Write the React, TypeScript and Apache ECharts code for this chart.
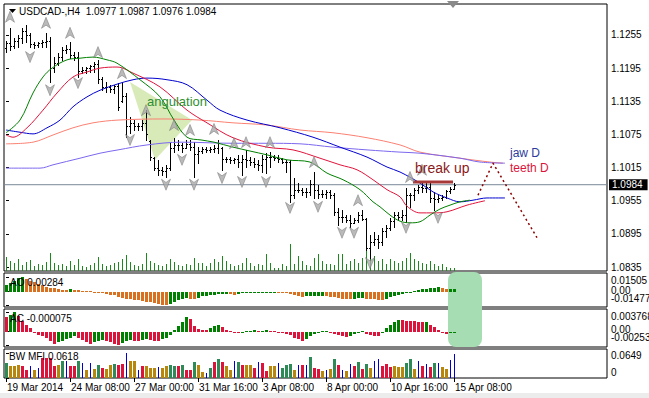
import React, { useEffect, useRef } from 'react';
import * as echarts from 'echarts';

const FONT = "'Liberation Sans', Arial, sans-serif";

// ---------- time axis ----------
const timeLabels = ['19 Mar 2014', '24 Mar 08:00', '27 Mar 00:00', '31 Mar 16:00', '3 Apr 08:00', '8 Apr 00:00', '10 Apr 16:00', '15 Apr 08:00'];
const timeTickIdx = [0, 16, 32, 48, 64, 80, 96, 112];

// ---------- price (H4 OHLC) ----------
const opens = [1.1232,1.1240,1.1235,1.1245,1.1250,1.1262,1.1255,1.1238,1.1236,1.1240,
1.1243,1.1245,1.1195,1.1205,1.1215,1.1228,1.1230,1.1218,1.1215,1.1190,
1.1192,1.1195,1.1198,1.1203,1.1175,1.1160,1.1160,1.1158,1.1162,1.1136,
1.1145,1.1090,1.1095,1.1090,1.1090,1.1095,1.1063,1.1033,1.1015,1.1010,
1.1008,1.1015,1.1050,1.1055,1.1055,1.1050,1.1058,1.1052,1.1040,1.1045,
1.1048,1.1046,1.1048,1.1050,1.1050,1.1030,1.1030,1.1028,1.1030,1.1025,
1.1030,1.1028,1.1025,1.1022,1.1020,1.1030,1.1035,1.1035,1.1032,1.1030,
1.1026,1.1025,1.0965,1.0975,1.0975,1.0970,1.0970,1.0985,1.0975,1.0968,
1.0968,1.0970,1.0965,1.0935,1.0925,1.0925,1.0920,1.0915,1.0920,1.0930,
1.0922,1.0870,1.0880,1.0885,1.0880,1.0900,1.0905,1.0918,1.0930,1.0925,
1.0930,1.0965,1.0965,1.0975,1.0980,1.0978,1.0980,1.0960,1.0958,1.0960,
1.0962,1.0972,1.0977];
const highs = [1.1245,1.1268,1.1250,1.1255,1.1268,1.1273,1.1259,1.1242,1.1242,1.1246,
1.1259,1.1251,1.1215,1.1222,1.1233,1.1237,1.1242,1.1224,1.1224,1.1197,
1.1197,1.1201,1.1206,1.1210,1.1179,1.1170,1.1165,1.1165,1.1168,1.1168,
1.1150,1.1107,1.1101,1.1096,1.1101,1.1119,1.1065,1.1034,1.1029,1.1016,
1.1020,1.1059,1.1068,1.1065,1.1059,1.1065,1.1065,1.1061,1.1052,1.1052,
1.1052,1.1052,1.1055,1.1065,1.1052,1.1034,1.1034,1.1032,1.1038,1.1038,
1.1047,1.1034,1.1032,1.1029,1.1038,1.1041,1.1043,1.1038,1.1038,1.1032,
1.1029,1.1029,1.0996,1.0987,1.0978,1.0978,1.0993,1.1007,1.0984,1.0975,
1.0975,1.0975,1.0969,1.0942,1.0938,1.0929,1.0929,1.0924,1.0935,1.0938,
1.0924,1.0893,1.0898,1.0893,1.0906,1.0911,1.0924,1.0935,1.0935,1.0938,
1.0978,1.0969,1.0978,1.0984,1.0989,1.0987,1.0989,1.0971,1.0965,1.0965,
1.0975,1.0980,1.0987];
const lows = [1.1225,1.1228,1.1231,1.1233,1.1241,1.1242,1.1233,1.1231,1.1233,1.1233,
1.1233,1.1170,1.1188,1.1201,1.1210,1.1222,1.1213,1.1210,1.1179,1.1186,
1.1186,1.1188,1.1188,1.1168,1.1155,1.1152,1.1152,1.1150,1.1119,1.1134,
1.1070,1.1078,1.1083,1.1083,1.1083,1.1065,1.1029,1.1011,1.1002,1.1002,
1.0998,1.1011,1.1043,1.1047,1.1043,1.1050,1.1047,1.0998,1.1023,1.1041,
1.1043,1.1043,1.1043,1.1041,1.1011,1.1025,1.1023,1.1023,1.1016,1.1002,
1.1016,1.1020,1.1016,1.1011,1.1007,1.1005,1.1016,1.1029,1.1025,1.1023,
1.1007,1.0953,1.0960,1.0971,1.0965,1.0962,1.0965,1.0960,1.0960,1.0962,
1.0960,1.0960,1.0929,1.0911,1.0917,1.0917,1.0908,1.0915,1.0917,1.0920,
1.0866,1.0851,1.0875,1.0870,1.0875,1.0889,1.0902,1.0908,1.0920,1.0920,
1.0917,1.0944,1.0956,1.0969,1.0971,1.0971,1.0953,1.0938,1.0953,1.0956,
1.0960,1.0969,1.0976];
const closes = [1.1240,1.1235,1.1245,1.1250,1.1262,1.1255,1.1238,1.1236,1.1240,1.1243,
1.1245,1.1195,1.1205,1.1215,1.1228,1.1230,1.1218,1.1215,1.1190,1.1192,
1.1195,1.1198,1.1203,1.1175,1.1160,1.1160,1.1158,1.1162,1.1125,1.1145,
1.1090,1.1095,1.1090,1.1090,1.1095,1.1075,1.1035,1.1015,1.1010,1.1008,
1.1015,1.1050,1.1055,1.1055,1.1050,1.1058,1.1052,1.1040,1.1045,1.1048,
1.1046,1.1048,1.1050,1.1060,1.1030,1.1030,1.1028,1.1030,1.1025,1.1030,
1.1028,1.1025,1.1022,1.1020,1.1030,1.1035,1.1035,1.1032,1.1030,1.1026,
1.1025,1.0965,1.0975,1.0975,1.0970,1.0970,1.0985,1.0975,1.0968,1.0968,
1.0970,1.0965,1.0935,1.0925,1.0925,1.0920,1.0915,1.0920,1.0930,1.0922,
1.0870,1.0880,1.0885,1.0880,1.0900,1.0905,1.0918,1.0930,1.0925,1.0930,
1.0965,1.0965,1.0975,1.0980,1.0978,1.0980,1.0960,1.0958,1.0960,1.0962,
1.0972,1.0977,1.0984];
const tickVolumes = [1400,1000,800,1200,600,900,1100,500,700,600,900,
1800,800,600,700,500,1000,600,1200,500,400,
600,800,1400,700,500,600,800,900,1200,1600,
900,600,500,700,1800,1000,800,600,500,700,
1200,900,600,500,700,600,1300,800,
800,500,800,1200,900,1500,1000,700,500,600,800,1300,
800,500,700,600,1700,800,300,300,700,500,
2700,
700,1500,1000,600,500,1300,1700,1000,700,
700,600,1700,1700,700,1000,1200,800,1300,2000,
1800,1500,1000,1200,700,1200,1000,800,1000,1300,
1800,1200,1000,800,700,1000,700,500,700,400,300,300];
const lastPrice = 1.0984;
const priceTicks = [1.0835, 1.0895, 1.0955, 1.1015, 1.1075, 1.1135, 1.1195, 1.1255];

// ---------- Alligator (H4) and daily lines: [bar index, price] ----------
const jaw = [[0,1.1083],[3.5,1.1079],[6.75,1.1076],[10.25,1.1087],[13.5,1.1101],[16.75,1.1125],[20.25,1.1143],[23.5,1.1155],[27.75,1.1166],[31.75,1.1174],[35.25,1.1177],[40.25,1.1174],[45.25,1.1165],[50.25,1.1137],[53.5,1.1119],[60.25,1.1101],[68.5,1.1087],[76.75,1.1070],[83.5,1.1052],[90.25,1.1034],[95.25,1.1016],[98.5,1.1007],[103.5,1.0987],[106.75,1.0971],[110.25,1.0960],[113.5,1.0953],[116.75,1.0956],[120.25,1.0960],[124.75,1.0960]];
const teeth = [[0,1.1074],[1.75,1.1070],[5.25,1.1087],[9.25,1.1119],[12.75,1.1150],[16.75,1.1179],[20.25,1.1188],[23.5,1.1195],[27.75,1.1197],[31.75,1.1186],[38.5,1.1161],[45.25,1.1119],[50.25,1.1096],[56.75,1.1069],[65.25,1.1052],[71.75,1.1047],[78.5,1.1032],[83.5,1.1020],[87.75,1.1011],[91.75,1.0993],[95.25,1.0975],[98.5,1.0962],[100.25,1.0945],[103.5,1.0933],[106.75,1.0933],[110.25,1.0935],[115.25,1.0947],[119.75,1.0955]];
const lips = [[0,1.1078],[3.5,1.1101],[6.75,1.1150],[9.25,1.1179],[11.5,1.1195],[15.25,1.1210],[18.5,1.1213],[21.75,1.1215],[25.25,1.1210],[27.75,1.1204],[33.5,1.1174],[38.5,1.1143],[42,1.1101],[45.25,1.1070],[48.75,1.1065],[52,1.1061],[56.75,1.1052],[65.25,1.1038],[70.25,1.1029],[76,1.1025],[80.25,1.1005],[84.25,1.0993],[88.5,1.0975],[91.75,1.0953],[93.5,1.0944],[96,1.0929],[98.5,1.0918],[101,1.0915],[103.5,1.0917],[106,1.0929],[108.5,1.0940],[111,1.0947],[113.5,1.0953],[116,1.0956]];
const teethD = [[0,1.1058],[6.75,1.1061],[11.75,1.1074],[16.75,1.1087],[21.75,1.1096],[28,1.1101],[39.5,1.1103],[48.5,1.1101],[56.75,1.1096],[65.25,1.1092],[73.5,1.1083],[81.75,1.1078],[90.25,1.1069],[98.5,1.1056],[103.5,1.1043],[113.5,1.1032],[121,1.1025],[124.25,1.1023]];
const jawD = [[0,1.1014],[8.5,1.1014],[11.75,1.1020],[18.5,1.1032],[23.5,1.1041],[28,1.1047],[35.25,1.1056],[43.75,1.1061],[56.75,1.1059],[65.25,1.1059],[73.5,1.1058],[81.75,1.1052],[90.25,1.1047],[98.5,1.1043],[103.5,1.1041],[113.5,1.1032],[118.5,1.1025],[124.75,1.1023]];

// ---------- fractals ----------
const upFractals = [[1,1.1288],[10,1.1277],[16,1.1259],[23,1.1224],[29,1.1186],[35,1.1119],[42,1.1092],[46,1.1083],[52,1.1085],[57,1.1059],[60,1.1061],[66,1.1061],[77,1.1025],[88,1.0956],[101,1.0998],[104,1.1011]];
const downFractals = [[6,1.1215],[11,1.1155],[18,1.1168],[31,1.1065],[40,1.0984],[44,1.1029],[47,1.0984],[54,1.0996],[59,1.0989],[65,1.0989],[71,1.0942],[78,1.0944],[84,1.0897],[87,1.0897],[91,1.0842],[100,1.0906],[108,1.0924]];

// ---------- drawn objects ----------
const angulationTriangle = [[31,1.1170],[46.5,1.1101],[37.25,1.1029]];
const breakUpLevel = [[101.75,1.0989],[111.75,1.0989]];
const projection = [[118,1.0965],[121.75,1.1023],[132.75,1.0888]];

// ---------- AO ----------
const aoValues = [0.0070,0.0090,0.0117,0.0140,0.01505,0.0134,0.0118,0.0098,0.0079,0.0066,
0.0054,0.0043,0.0035,0.0027,0.0019,0.0015,0.0023,0.0016,0.0012,0.0011,
0.0008,0.0004,-0.0003,-0.0010,-0.0013,-0.0024,-0.0034,-0.0040,-0.0057,-0.0067,
-0.0074,-0.0084,-0.0091,-0.0094,-0.0101,-0.0108,-0.0114,-0.0121,-0.0134,-0.0141,
-0.01477,-0.0134,-0.0114,-0.0094,-0.0081,-0.0067,-0.0074,-0.0075,-0.0064,-0.0050,
-0.0049,-0.0037,-0.0031,-0.0030,-0.0029,-0.0024,-0.0030,-0.0031,-0.0024,-0.0020,
-0.0019,-0.0017,-0.0013,-0.0010,-0.0007,-0.0006,-0.0005,-0.0003,-0.0007,-0.0013,
-0.0017,-0.0024,-0.0040,-0.0050,-0.0057,-0.0047,-0.0046,-0.0045,-0.0044,-0.0043,
-0.0050,-0.0057,-0.0060,-0.0067,-0.0074,-0.0080,-0.0081,-0.0074,-0.0067,-0.0064,
-0.0074,-0.0081,-0.0084,-0.0085,-0.0086,-0.0074,-0.0057,-0.0047,-0.0034,-0.0027,
-0.0017,-0.0010,0.0011,0.0018,0.0025,0.0032,0.0039,0.0043,0.0044,0.0036,
0.0027,0.0028,0.00284];
const aoColorIdx = [0,0,0,0,0,1,1,1,1,1, 1,1,1,1,1,1,0,1,1,1, 1,1,1,1,1,1,1,1,1,1, 1,1,1,1,1,1,1,1,1,1,
1,0,0,0,0,0,1,1,0,0, 0,0,0,0,0,0,1,1,0,0, 0,0,0,0,0,0,0,0,1,1, 1,1,1,1,1,0,0,0,0,0,
1,1,1,1,1,1,1,0,0,0, 1,1,1,1,1,0,0,0,0,0, 0,0,0,0,0,0,0,0,0,1, 1,0,0];
const aoTickValues = [0.01505, 0, -0.01477];
const aoTickLabels = ['0.01505', '0.00', '-0.01477'];

// ---------- AC ----------
const acValues = [0.00274,0.00329,0.003768,0.00308,0.00206,0.00137,0.00069,-0.00029,-0.00069,-0.00086,
-0.00115,-0.00173,-0.0023,-0.00201,-0.00173,-0.00144,-0.00115,-0.00086,-0.00115,-0.00161,
-0.00201,-0.0023,-0.00201,-0.00173,-0.00161,-0.00184,-0.00201,-0.0023,-0.00253,-0.00219,
-0.00173,-0.00161,-0.00173,-0.00184,-0.00161,-0.00144,-0.00161,-0.00173,-0.00178,-0.00144,
-0.00115,-0.00058,0.00034,0.00103,0.00192,0.00288,0.0024,0.00116,0.00048,0.00034,
0.00027,0.00069,0.00103,0.00123,0.00082,0.00034,0.00014,-0.00012,-0.00017,-0.00006,
0.00014,0.00021,0.00027,0.00014,0.00021,0.00027,0.00014,0.00007,-0.00017,-0.00018,
-0.00035,-0.00058,-0.00115,-0.00144,-0.00173,-0.00144,-0.00086,-0.0004,-0.00017,0.00007,
0.00014,-0.00006,-0.00046,-0.00069,-0.00086,-0.00092,-0.00086,-0.00046,-0.00017,0.00007,
-0.00046,-0.00069,-0.00072,-0.00075,-0.00029,0.00069,0.00137,0.00192,0.00226,0.00219,
0.00212,0.00206,0.00199,0.00192,0.00185,0.00192,0.00137,0.00082,0.00034,-0.00017,
-0.00046,-0.00017,-0.000075];
const acColorIdx = [1,0,0,1,1,1,1,1,1,1, 1,1,1,0,0,0,0,0,1,1, 1,1,0,0,0,1,1,1,1,0, 0,0,1,1,0,0,1,1,1,0,
0,0,0,0,0,0,1,1,1,1, 1,0,0,0,1,1,1,1,1,0, 0,0,0,1,0,0,1,1,1,1, 1,1,1,1,1,0,0,0,0,0,
0,1,1,1,1,1,0,0,0,0, 1,1,1,1,0,0,0,0,0,1, 1,1,1,1,1,0,1,1,1,1, 1,0,0];
const acTickValues = [0.003768, 0, -0.00253];
const acTickLabels = ['0.003768', '0.00', '-0.00253'];

// ---------- BW MFI ----------
const mfiValues = [0.0386,0.0309,0.0309,0.0335,0.0309,0.0206,0.0309,0.0206,0.0258,0.0515,
0.0515,0.0515,0.0309,0.0335,0.0438,0.0438,0.0309,0.0309,0.0438,0.0386,
0.0206,0.0386,0.0232,0.0335,0.0258,0.0232,0.0335,0.0361,0.0335,0.0361,
0.0649,0.0438,0.0438,0.0206,0.0309,0.0309,0.0258,0.0258,0.0283,0.0258,
0.0309,0.0335,0.0309,0.0309,0.0335,0.0206,0.0206,0.0412,0.0335,0.0155,
0.0129,0.0258,0.0412,0.0489,0.0412,0.0309,0.0206,0.0438,0.0412,0.0335,
0.0335,0.0335,0.0258,0.0412,0.0386,0.0180,0.0309,0.0309,0.0386,0.0258,
0.0335,0.0361,0.0206,0.0335,0.0335,0.0335,0.0541,0.0258,0.0232,0.0180,
0.0206,0.0232,0.0489,0.0335,0.0206,0.0180,0.0361,0.0309,0.0412,0.0232,
0.0361,0.0258,0.0438,0.0489,0.0309,0.0361,0.0283,0.0309,0.0283,0.0283,
0.0386,0.0489,0.0232,0.0438,0.0309,0.0361,0.0283,0.0386,0.0386,0.0283,
0.0232,0.0463,0.0618];
const mfiColorIdx = [0,2,2,2,1,1,3,2,3,1, 1,1,1,2,0,3,1,1,0,3, 2,3,2,0,1,2,2,0,1,1, 3,2,2,3,1,2,2,2,3,2,
2,0,0,1,0,1,1,0,2,2, 3,0,1,0,1,2,2,3,0,1, 2,2,1,3,1,1,2,2,3,0, 0,0,2,3,1,3,0,1,1,2,
3,2,0,1,3,2,3,1,0,1, 0,2,3,3,1,1,1,2,2,2, 0,0,2,3,1,3,1,0,3,2, 2,3,3];
const mfiTickValues = [0.0649, 0];
const mfiTickLabels = ['0.0649', '0'];

// ---------- render helpers ----------
function renderOHLC(params: any, api: any) {
  const i = api.value(0);
  const o = api.coord([i, api.value(1)]);
  const h = api.coord([i, api.value(2)]);
  const l = api.coord([i, api.value(3)]);
  const c = api.coord([i, api.value(4)]);
  const x = Math.round(h[0]) + 0.5;
  const st = { stroke: '#000', lineWidth: 1 };
  const yo = Math.round(o[1]) + 0.5;
  const yc = Math.round(c[1]) + 0.5;
  return {
    type: 'group',
    children: [
      { type: 'line', shape: { x1: x, y1: Math.round(h[1]), x2: x, y2: Math.round(l[1]) + 1 }, style: st },
      { type: 'line', shape: { x1: x - 1.5, y1: yo, x2: x, y2: yo }, style: st },
      { type: 'line', shape: { x1: x, y1: yc, x2: x + 1.5, y2: yc }, style: st },
    ],
  };
}

const makeHist = (colors: string[], widths: number[]) => (params: any, api: any) => {
  const i = api.value(0);
  const v = api.value(1);
  const k = api.value(2);
  const p0 = api.coord([i, 0]);
  const p1 = api.coord([i, v]);
  const w = widths[k];
  const x = Math.round(p0[0]) - Math.floor(w / 2);
  const y0 = Math.round(p0[1]);
  const y1 = Math.round(p1[1]);
  const top = Math.min(y0, y1);
  const hgt = Math.max(1, Math.abs(y1 - y0));
  return { type: 'rect', shape: { x, y: top, width: w, height: hgt }, style: { fill: colors[k] } };
};

const notes = [
  { text: 'angulation', at: [35.25, 1.1134], color: '#2F8F2F', size: 13 },
  { text: 'break up', at: [102.25, 1.1014], color: '#8B1A1A', size: 14 },
  { text: 'jaw D', at: [126, 1.1041], color: '#2B3A9E', size: 12 },
  { text: 'teeth D', at: [126, 1.1014], color: '#DC143C', size: 12 },
];

// sub-window scale labels: axis index, values, texts, small vertical nudges (MT4 keeps them inside the window)
const sideLabelSpecs = [
  { axis: 2, values: aoTickValues, labels: aoTickLabels, dy: [3.5, -1.5, -6.5] },
  { axis: 3, values: acTickValues, labels: acTickLabels, dy: [5, -2.5, -8] },
  { axis: 4, values: mfiTickValues, labels: mfiTickLabels, dy: [2.2, -6] },
];

export default function App() {
  const ref = useRef<HTMLDivElement>(null);
  useEffect(() => {
    const chart = echarts.init(ref.current!, null, { renderer: 'svg' });
    const ohlc = opens.map((o, i) => [i, o, highs[i], lows[i], closes[i]]);
    const xBase = { type: 'value', min: -0.5, max: 150.25 };
    const lineSeries = (data: number[][], color: string, name: string) => ({
      type: 'line', name, data, xAxisIndex: 0, yAxisIndex: 0, symbol: 'none', smooth: 0.35,
      lineStyle: { color, width: 1 }, z: 4, silent: true,
    });
    const arrowPath = 'path://M5,0 L10,12 L5,8.5 L0,12 Z';
    const titleStyle = { fontSize: 10, fontWeight: 'normal', fontFamily: FONT, color: '#000' };
    const subAxis = (gridIndex: number, min: number, max: number, ticks: number[]) => ({
      type: 'value', gridIndex, position: 'right', min, max, splitLine: { show: false },
      axisLine: { show: false },
      axisTick: { show: true, customValues: ticks, length: 3, lineStyle: { color: '#000' } },
      axisLabel: { show: false },
    });
    const baseGraphics: any[] = [
      { type: 'polygon', shape: { points: [[9, 9], [16, 9], [12.5, 13]] }, style: { fill: '#000' }, z: 10 },
      { type: 'polygon', shape: { points: [[447, 1], [459, 1], [453, 8]] }, style: { fill: '#8A8A8A' }, z: 10 },
      { type: 'rect', shape: { x: 448, y: 272, width: 34, height: 75, r: 8 }, style: { fill: '#A6DDB2' }, z: 1 },
      { type: 'rect', shape: { x: 0, y: 393, width: 649, height: 5 }, style: { fill: '#ECECEC' }, z: 1 },
    ];
    const option: any = {
      animation: false,
      backgroundColor: '#fff',
      title: [
        { text: 'USDCAD-,H4  1.0977 1.0987 1.0976 1.0984', left: 19, top: 6, padding: 0, z: 10, textStyle: titleStyle },
        { text: 'AO 0.00284', left: 10, top: 277, padding: 0, z: 10, textStyle: titleStyle },
        { text: 'AC -0.000075', left: 10, top: 313, padding: 0, z: 10, textStyle: titleStyle },
        { text: 'BW MFI 0.0618', left: 9, top: 351, padding: 0, z: 10, textStyle: titleStyle },
      ],
      grid: [
        { left: 4, width: 603, top: 4, height: 267, show: true, borderColor: '#000', borderWidth: 1 },
        { left: 4, width: 603, top: 273, height: 34, show: true, borderColor: '#000', borderWidth: 1 },
        { left: 4, width: 603, top: 309, height: 38, show: true, borderColor: '#000', borderWidth: 1 },
        { left: 4, width: 603, top: 349, height: 29, show: true, borderColor: '#000', borderWidth: 1 },
      ],
      xAxis: [
        { ...xBase, gridIndex: 0, show: false },
        { ...xBase, gridIndex: 1, show: false },
        { ...xBase, gridIndex: 2, show: false },
        {
          ...xBase, gridIndex: 3, position: 'bottom',
          axisLine: { show: false }, splitLine: { show: false },
          axisTick: { show: true, customValues: timeTickIdx, length: 4, lineStyle: { color: '#000' } },
          axisLabel: {
            customValues: timeTickIdx, formatter: (v: number) => timeLabels[Math.round(v / 16)] || '',
            align: 'left', margin: 4, padding: [0, 0, 0, 1], fontSize: 10, fontFamily: FONT, color: '#000',
          },
        },
      ],
      yAxis: [
        {
          type: 'value', gridIndex: 0, position: 'right', min: 1.08278, max: 1.13111, splitLine: { show: false },
          axisLine: { show: false },
          axisTick: { show: true, customValues: priceTicks, length: 3, lineStyle: { color: '#000' } },
          axisLabel: { customValues: priceTicks, formatter: (v: number) => v.toFixed(4), margin: 4, fontSize: 10, fontFamily: FONT, color: '#000' },
        },
        { type: 'value', gridIndex: 0, min: 0, max: 26700, show: false },
        subAxis(1, -0.0164, 0.0198, aoTickValues),
        subAxis(2, -0.00291, 0.00434, acTickValues),
        subAxis(3, 0, 0.0747, mfiTickValues),
      ],
      series: [
        {
          type: 'custom', name: 'angulation-area', xAxisIndex: 0, yAxisIndex: 0, z: 1, silent: true,
          data: [angulationTriangle[0]],
          renderItem: (params: any, api: any) => ({
            type: 'polygon',
            shape: { points: angulationTriangle.map((p) => api.coord(p)) },
            style: { fill: '#D8EAB8' },
          }),
        },
        {
          type: 'custom', name: 'volume', xAxisIndex: 0, yAxisIndex: 1, z: 2, silent: true,
          data: tickVolumes.map((v, i) => [i, v, 0]),
          encode: { x: 0, y: 1 },
          renderItem: makeHist(['#1A8A1A'], [1]),
        },
        {
          type: 'line', name: 'last price', xAxisIndex: 0, yAxisIndex: 0, z: 2, silent: true,
          data: [[-0.5, lastPrice], [150.25, lastPrice]], symbol: 'none',
          lineStyle: { color: '#7A8898', width: 1 },
          endLabel: {
            show: true, distance: 2, formatter: () => lastPrice.toFixed(4),
            backgroundColor: '#000', color: '#fff', padding: [1, 5, 0, 3], fontSize: 10, fontFamily: FONT,
          },
        },
        {
          type: 'custom', name: 'price', xAxisIndex: 0, yAxisIndex: 0, z: 3, silent: true,
          data: ohlc, encode: { x: 0, y: [1, 2, 3, 4] },
          renderItem: renderOHLC,
        },
        lineSeries(teethD, '#FA8072', 'teeth D'),
        lineSeries(jawD, '#7B68EE', 'jaw D'),
        lineSeries(jaw, '#0000CD', 'jaw'),
        lineSeries(teeth, '#E0143C', 'teeth'),
        lineSeries(lips, '#008000', 'lips'),
        {
          type: 'scatter', name: 'fractal up', xAxisIndex: 0, yAxisIndex: 0, z: 5, silent: true,
          data: upFractals, symbol: arrowPath, symbolSize: [9, 11],
          itemStyle: { color: '#A9A9A9', borderColor: '#6E6E6E', borderWidth: 0.6 },
        },
        {
          type: 'scatter', name: 'fractal down', xAxisIndex: 0, yAxisIndex: 0, z: 5, silent: true,
          data: downFractals, symbol: arrowPath, symbolSize: [9, 11], symbolRotate: 180,
          itemStyle: { color: '#A9A9A9', borderColor: '#6E6E6E', borderWidth: 0.6 },
        },
        {
          type: 'line', name: 'break up level', xAxisIndex: 0, yAxisIndex: 0, z: 5, silent: true,
          data: breakUpLevel, symbol: 'none', lineStyle: { color: '#A83838', width: 3 },
        },
        {
          type: 'line', name: 'projection', xAxisIndex: 0, yAxisIndex: 0, z: 5, silent: true,
          data: projection, symbol: 'none', lineStyle: { color: '#8B0000', width: 1.5, type: [2, 3] },
        },
        {
          type: 'custom', name: 'notes', xAxisIndex: 0, yAxisIndex: 0, z: 6, silent: true,
          data: notes.map((n) => n.at),
          renderItem: (params: any, api: any) => {
            const n = notes[params.dataIndex];
            const p = api.coord(n.at);
            return {
              type: 'text', x: p[0], y: p[1],
              style: { text: n.text, fill: n.color, font: `${n.size}px ${FONT}`, align: 'left', verticalAlign: 'middle' },
            };
          },
        },
        {
          type: 'custom', name: 'AO', xAxisIndex: 1, yAxisIndex: 2, z: 3, silent: true,
          data: aoValues.map((v, i) => [i, v, aoColorIdx[i]]), encode: { x: 0, y: 1 },
          renderItem: makeHist(['#008000', '#D97020'], [3, 3]),
        },
        {
          type: 'custom', name: 'AC', xAxisIndex: 2, yAxisIndex: 3, z: 3, silent: true,
          data: acValues.map((v, i) => [i, v, acColorIdx[i]]), encode: { x: 0, y: 1 },
          renderItem: makeHist(['#008000', '#DC143C'], [3, 3]),
        },
        {
          type: 'custom', name: 'BW MFI', xAxisIndex: 3, yAxisIndex: 4, z: 3, silent: true,
          data: mfiValues.map((v, i) => [i, v, mfiColorIdx[i]]), encode: { x: 0, y: 1 },
          renderItem: makeHist(['#2E8B57', '#DC143C', '#B8860B', '#0000CD'], [3, 3, 3, 1]),
        },
      ],
      graphic: baseGraphics,
    };
    chart.setOption(option);

    // scale labels of the indicator windows, placed with the windows' own axes
    const labelTexts: any[] = [];
    sideLabelSpecs.forEach((s) => {
      s.values.forEach((v, k) => {
        const y = chart.convertToPixel({ yAxisIndex: s.axis } as any, v) as unknown as number;
        labelTexts.push({
          type: 'text', x: 611, y: y + s.dy[k], z: 10,
          style: { text: s.labels[k], font: `10px ${FONT}`, fill: '#000', align: 'left', verticalAlign: 'middle' },
        });
      });
    });
    chart.setOption({ graphic: [...baseGraphics, ...labelTexts] });
    return () => chart.dispose();
  }, []);
  return <div ref={ref} style={{ position: 'fixed', left: 0, top: 0, width: 649, height: 398, background: '#fff' }} />;
}
